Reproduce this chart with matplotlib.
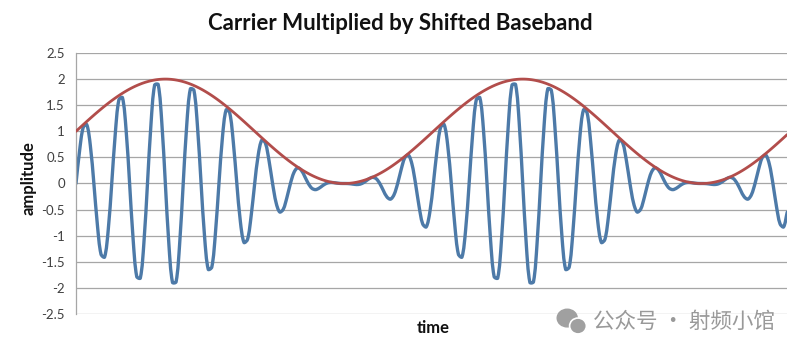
import numpy as np
import matplotlib
matplotlib.use("Agg")
import matplotlib.pyplot as plt
from matplotlib.patches import Ellipse, PathPatch
from matplotlib.path import Path

# ---- data ----
# 200 samples, 100 per baseband cycle, carrier = 10 cycles per baseband cycle
n_samples = 200
samples_per_baseband = 100
carrier_per_baseband = 10
baseband_offset = 1.0          # shifted baseband: 1 + sin(...)
baseband_amplitude = 1.0

y_ticks = [-2.5, -2, -1.5, -1, -0.5, 0, 0.5, 1, 1.5, 2, 2.5]
y_tick_labels = ["-2.5", "-2", "-1.5", "-1", "-0.5", "0", "0.5", "1", "1.5", "2", "2.5"]

title = "Carrier Multiplied by Shifted Baseband"
x_label = "time"
y_label = "amplitude"
watermark = "公众号 · 射频小馆"

t = np.arange(n_samples) / samples_per_baseband
envelope = baseband_offset + baseband_amplitude * np.sin(2 * np.pi * t)
signal = envelope * np.sin(2 * np.pi * carrier_per_baseband * t)

# ---- figure ----
fig = plt.figure(figsize=(8, 3.53), dpi=100)
ax = fig.add_axes([0.095, 0.1105, 0.889, 0.7394])
ax.set_xlim(t[0], t[-1])
ax.set_ylim(-2.5, 2.5)


def smooth_path(x, y, sx, sy, k=1.0 / 3.0):
    """Excel-like smoothed line: Bezier segments through every sample,
    tangents weighted by on-screen segment lengths."""
    px, py = x * sx, y * sy
    n = len(x)
    d = np.hypot(np.diff(px), np.diff(py))
    verts = [(x[0], y[0])]
    codes = [Path.MOVETO]
    for i in range(n - 1):
        i0 = max(i - 1, 0)
        i3 = min(i + 2, n - 1)
        dprev = d[i - 1] if i > 0 else d[i]
        dnext = d[i + 1] if i < n - 2 else d[i]
        w1 = k * d[i] / (dprev + d[i])
        w2 = k * d[i] / (d[i] + dnext)
        if i == 0:
            w1 = k
        if i == n - 2:
            w2 = k
        c1 = (x[i] + (x[i + 1] - x[i0]) * w1, y[i] + (y[i + 1] - y[i0]) * w1)
        c2 = (x[i + 1] - (x[i3] - x[i]) * w2, y[i + 1] - (y[i3] - y[i]) * w2)
        verts += [c1, c2, (x[i + 1], y[i + 1])]
        codes += [Path.CURVE4, Path.CURVE4, Path.CURVE4]
    return Path(verts, codes)


# pixel scales of the axes (for on-screen segment lengths)
sx = 711.0 / (t[-1] - t[0])
sy = 261.0 / 5.0

for yv in y_ticks:
    ax.axhline(yv, color="#a6a6a6", lw=0.9, zorder=0)

ax.add_patch(PathPatch(smooth_path(t, signal, sx, sy), fill=False,
                       ec="#4d7aa8", lw=2.4, joinstyle="round",
                       capstyle="round", zorder=2))
ax.add_patch(PathPatch(smooth_path(t, envelope, sx, sy), fill=False,
                       ec="#b24d4b", lw=2.0, joinstyle="round",
                       capstyle="round", zorder=3))

ax.set_yticks(y_ticks)
ax.set_yticklabels(y_tick_labels, fontsize=9.5, color="#404040", family="Lato")
ax.set_xticks([])
ax.tick_params(axis="y", length=0, pad=8)
for s in ["top", "right", "bottom"]:
    ax.spines[s].set_visible(False)
ax.spines["left"].set_color("#a6a6a6")
ax.spines["left"].set_linewidth(0.9)

fig.text(0.5, 0.933, title, ha="center", va="center", fontsize=16,
         fontweight="bold", family="Lato", color="#111111")
fig.text(0.541, 0.071, x_label, ha="center", va="center", fontsize=12,
         fontweight="bold", family="Lato", color="#111111")
fig.text(0.036, 0.496, y_label, ha="center", va="center", rotation=90,
         fontsize=12, fontweight="bold", family="Lato", color="#111111")

# watermark
fig.text(0.741, 0.088, watermark, ha="left", va="center", fontsize=15.5,
         color="#999999", family=["Noto Sans CJK SC", "DejaVu Sans"])
fig.patches.append(Ellipse((0.709, 0.099), 0.025, 0.05, transform=fig.transFigure,
                           color="#a0a0a0"))
fig.patches.append(Ellipse((0.7225, 0.0765), 0.021, 0.045, transform=fig.transFigure,
                           fc="#a0a0a0", ec="white", lw=1.2))

fig.savefig("out.png", dpi=100, facecolor="white")
